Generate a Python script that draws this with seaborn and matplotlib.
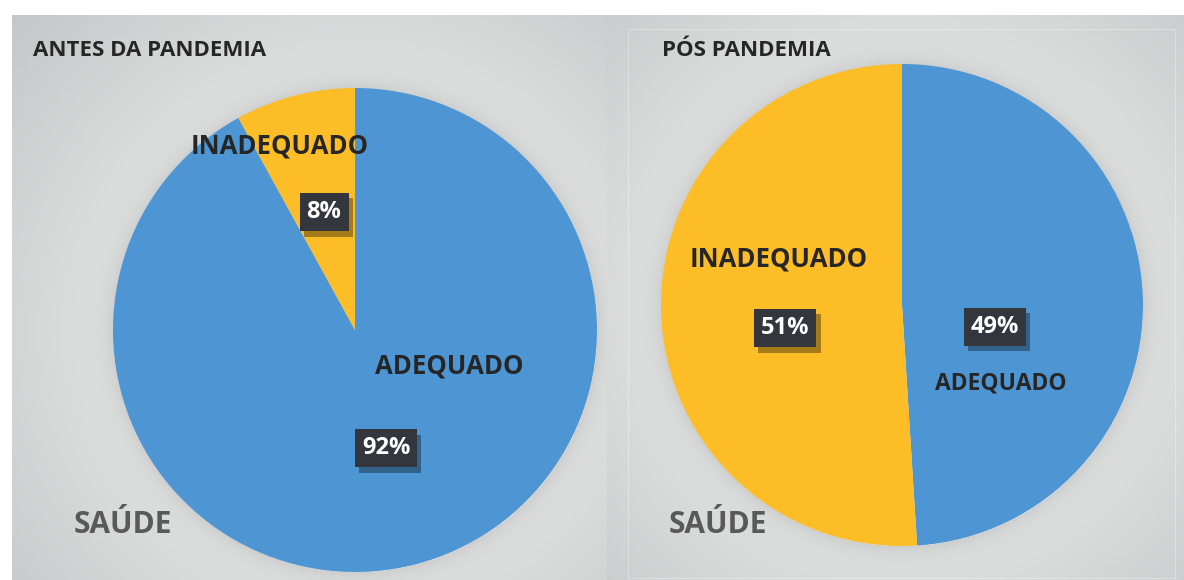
import numpy as np
import seaborn as sns
import matplotlib.pyplot as plt
from matplotlib import patheffects
from matplotlib.patches import Rectangle

# dados
categorias = ['ADEQUADO', 'INADEQUADO']
antes = [92, 8]
pos = [49, 51]
titulos = ['ANTES DA PANDEMIA', 'PÓS PANDEMIA']
rotulo_eixo = 'SAÚDE'

cores = ['#4e96d3', '#fdbd27']

sns.set_style('white')
plt.rcParams['font.family'] = ['Open Sans', 'DejaVu Sans']

W, H = 1184, 580
fig = plt.figure(figsize=(W / 100, H / 100), dpi=100)
fig.patch.set_facecolor('white')


def px_axes(x0, y0, x1, y1):
    return fig.add_axes([x0 / W, 1 - y1 / H, (x1 - x0) / W, (y1 - y0) / H])


def fundo(x0, y0, x1, y1, cx, cy, r, borda=None):
    ax = px_axes(x0, y0, x1, y1)
    yy, xx = np.mgrid[y0:y1, x0:x1]
    d = np.hypot(xx - cx, yy - cy)
    claro = np.array([0.875, 0.878, 0.878])
    escuro = np.array([0.765, 0.773, 0.776])
    t = np.clip((d - r) / (r * 1.0), 0, 1)[..., None]
    img = claro * (1 - t) + escuro * t
    # sombra suave em volta da pizza
    s = np.exp(-np.clip(d - r, 0, None) / 10.0)[..., None] * (d >= r)[..., None]
    img = img - 0.07 * s
    ax.imshow(img, extent=[x0, x1, y1, y0], aspect='auto')
    if borda is not None:
        bx0, by0, bx1, by1 = borda
        ax.add_patch(Rectangle((bx0, by0), bx1 - bx0, by1 - by0, fill=False,
                               ec='white', lw=0.8, alpha=0.3))
    ax.set_xlim(x0, x1)
    ax.set_ylim(y1, y0)
    ax.axis('off')
    return ax


def caixa(ax, x, y, txt):
    t = ax.text(x, y, txt, ha='center', va='center', fontsize=17, fontweight='bold',
                color='white',
                bbox=dict(boxstyle='square,pad=0.3', fc='#33373d', ec='none'))
    t.get_bbox_patch().set_path_effects([
        patheffects.SimplePatchShadow(offset=(3, -4), shadow_rgbFace='black', alpha=0.35),
        patheffects.Normal()])


paineis = [
    dict(box=(12, 15, 607, 580), c=(355, 330), r=242, vals=antes,
         tit=(33, 50), saude=(123, 525), borda=None,
         nomes={'INADEQUADO': (-0.31, 0.76, 18.5), 'ADEQUADO': (0.39, -0.15, 18.5)},
         pct=[(0.128, -0.488), (-0.128, 0.488)]),
    dict(box=(607, 15, 1184, 580), c=(902, 305), r=241, vals=pos,
         tit=(662, 50), saude=(718, 525), borda=(628, 29, 1175, 578),
         nomes={'INADEQUADO': (-0.51, 0.19, 18.5), 'ADEQUADO': (0.41, -0.325, 16.5)},
         pct=[(0.386, -0.09), (-0.485, -0.095)]),
]

for p, titulo in zip(paineis, titulos):
    x0, y0, x1, y1 = p['box']
    cx, cy = p['c']
    r = p['r']
    bg = fundo(x0, y0, x1, y1, cx, cy, r, p['borda'])

    ax = px_axes(cx - r, cy - r, cx + r, cy + r)
    ax.pie(p['vals'], colors=cores, startangle=90, counterclock=False,
           wedgeprops=dict(linewidth=0))
    ax.set_xlim(-1, 1)
    ax.set_ylim(-1, 1)
    ax.set_aspect('auto')
    ax.axis('off')

    for nome, (lx, ly, fs) in p['nomes'].items():
        ax.text(lx, ly, nome, ha='center', va='center', fontsize=fs,
                fontweight='bold', color='#262626')
    for v, (lx, ly) in zip(p['vals'], p['pct']):
        caixa(ax, lx, ly, f'{v}%')

    fig.text(p['tit'][0] / W, 1 - p['tit'][1] / H, titulo, ha='left', va='center',
             fontsize=16, fontweight='bold', color='#262626')
    fig.text(p['saude'][0] / W, 1 - p['saude'][1] / H, rotulo_eixo, ha='center',
             va='center', fontsize=21.5, fontweight='bold', color='#595959')

fig.savefig('out.png', dpi=100, facecolor='white')
